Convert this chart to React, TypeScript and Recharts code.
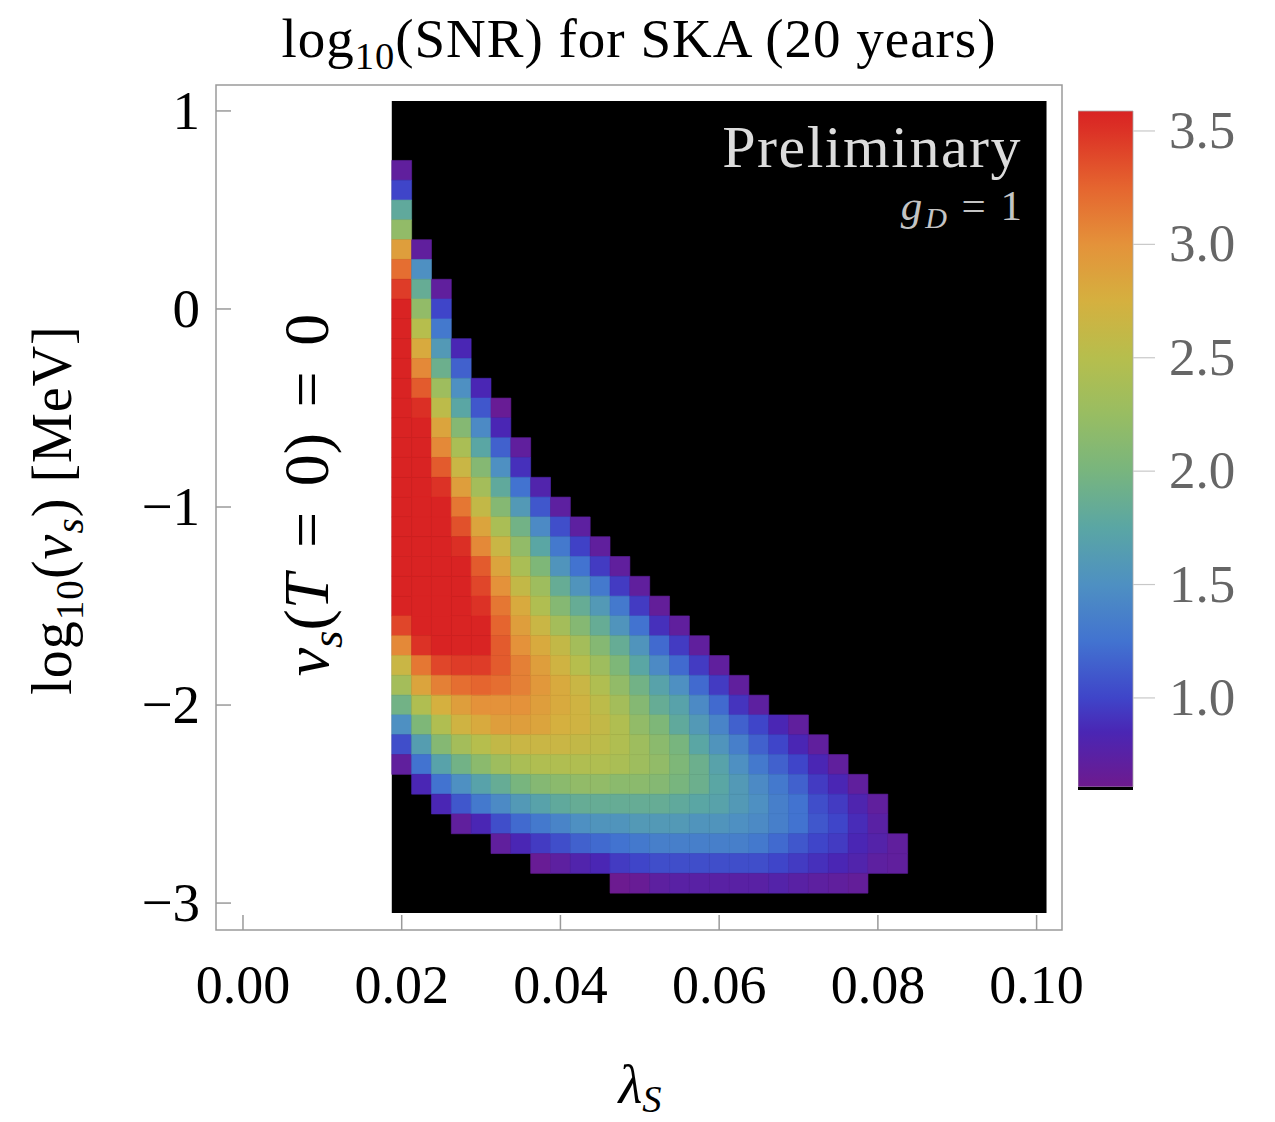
import React from 'react';
import { ScatterChart, ComposedChart, Scatter, XAxis, YAxis, ReferenceArea } from 'recharts';

// column centres (lambda_S)
const lambdaS = [
  0.02, 0.0225, 0.025, 0.0275, 0.03, 0.0325, 0.035, 0.0375, 0.04, 0.0425, 0.045, 0.0475, 0.05,
  0.0525, 0.055, 0.0575, 0.06, 0.0625, 0.065, 0.0675, 0.07, 0.0725, 0.075, 0.0775, 0.08, 0.0825,
];

// log10(v_s / MeV) of the top cell in each column
const topLogVs = [
  0.7, 0.3, 0.1, -0.2, -0.4, -0.5, -0.7, -0.9, -1.0, -1.1, -1.2, -1.3, -1.4,
  -1.5, -1.6, -1.7, -1.8, -1.9, -2.0, -2.1, -2.1, -2.2, -2.3, -2.4, -2.5, -2.7,
];

// log10(SNR), each column read from top to bottom (0.1 dex per cell)
const snr0200 = [0.7, 1.0, 1.8, 2.2, 2.9, 3.2, 3.45, 3.6, 3.6, 3.6, 3.6, 3.6, 3.6, 3.6, 3.6, 3.6, 3.6, 3.6, 3.6, 3.6, 3.6, 3.6, 3.6, 3.4, 3.05, 2.65, 2.35, 1.95, 1.5, 1.05, 0.7];
const snr0225 = [0.7, 1.5, 1.85, 2.2, 2.5, 2.8, 3.05, 3.3, 3.52, 3.6, 3.6, 3.6, 3.6, 3.6, 3.6, 3.6, 3.6, 3.6, 3.6, 3.6, 3.5, 3.15, 2.85, 2.45, 2.05, 1.65, 1.25, 0.85];
const snr0250 = [0.7, 1.0, 1.3, 1.6, 1.9, 2.3, 2.55, 2.85, 3.05, 3.3, 3.5, 3.6, 3.6, 3.6, 3.6, 3.6, 3.6, 3.6, 3.6, 3.4, 3.1, 2.75, 2.45, 2.1, 1.7, 1.25, 0.85];
const snr0275 = [0.85, 1.15, 1.5, 1.75, 2.1, 2.4, 2.65, 2.9, 3.15, 3.35, 3.52, 3.6, 3.6, 3.6, 3.58, 3.58, 3.45, 3.2, 2.9, 2.7, 2.35, 1.95, 1.5, 1.1, 0.7];
const snr0300 = [0.85, 1.1, 1.45, 1.75, 2.1, 2.35, 2.6, 2.85, 3.05, 3.3, 3.4, 3.5, 3.58, 3.58, 3.45, 3.25, 3.0, 2.8, 2.5, 2.15, 1.7, 1.3, 0.85];
const snr0325 = [0.65, 0.85, 1.15, 1.5, 1.8, 2.1, 2.4, 2.65, 2.85, 3.0, 3.15, 3.25, 3.3, 3.3, 3.2, 3.0, 2.9, 2.6, 2.3, 1.85, 1.45, 1.05, 0.7];
const snr0350 = [0.7, 0.9, 1.25, 1.6, 1.95, 2.2, 2.4, 2.6, 2.8, 2.9, 3.0, 3.1, 3.1, 3.0, 2.9, 2.65, 2.4, 2.0, 1.6, 1.2, 0.85];
const snr0375 = [0.8, 1.1, 1.45, 1.75, 2.05, 2.3, 2.45, 2.65, 2.8, 2.9, 2.95, 2.9, 2.85, 2.65, 2.45, 2.1, 1.7, 1.3, 0.95, 0.65];
const snr0400 = [0.72, 1.05, 1.3, 1.55, 1.85, 2.1, 2.35, 2.6, 2.7, 2.8, 2.8, 2.75, 2.65, 2.45, 2.15, 1.8, 1.4, 1.05, 0.72];
const snr0425 = [0.72, 0.98, 1.25, 1.55, 1.85, 2.1, 2.35, 2.5, 2.65, 2.7, 2.7, 2.6, 2.45, 2.2, 1.85, 1.5, 1.15, 0.8];
const snr0450 = [0.7, 0.95, 1.3, 1.6, 1.85, 2.1, 2.3, 2.45, 2.55, 2.6, 2.55, 2.45, 2.2, 1.85, 1.55, 1.2, 0.85];
const snr0475 = [0.7, 0.95, 1.3, 1.55, 1.85, 2.05, 2.2, 2.35, 2.45, 2.45, 2.4, 2.15, 1.85, 1.55, 1.25, 0.95, 0.62];
const snr0500 = [0.7, 0.95, 1.25, 1.55, 1.75, 1.95, 2.1, 2.2, 2.3, 2.3, 2.15, 1.85, 1.6, 1.3, 1.0, 0.65];
const snr0525 = [0.68, 0.9, 1.2, 1.45, 1.7, 1.85, 2.05, 2.15, 2.2, 2.1, 1.85, 1.6, 1.35, 1.05, 0.72];
const snr0550 = [0.7, 0.95, 1.2, 1.5, 1.7, 1.8, 2.0, 2.05, 2.0, 1.8, 1.6, 1.35, 1.05, 0.75];
const snr0575 = [0.7, 0.95, 1.2, 1.45, 1.6, 1.75, 1.9, 1.9, 1.75, 1.55, 1.35, 1.05, 0.75];
const snr0600 = [0.7, 0.95, 1.2, 1.4, 1.55, 1.7, 1.75, 1.7, 1.55, 1.35, 1.05, 0.75];
const snr0625 = [0.7, 0.92, 1.15, 1.35, 1.5, 1.6, 1.6, 1.5, 1.35, 1.05, 0.75];
const snr0650 = [0.72, 1.0, 1.15, 1.3, 1.45, 1.5, 1.45, 1.3, 1.05, 0.75];
const snr0675 = [0.85, 1.0, 1.15, 1.3, 1.35, 1.35, 1.2, 1.0, 0.78];
const snr0700 = [0.7, 0.85, 1.0, 1.15, 1.25, 1.25, 1.1, 0.95, 0.75];
const snr0725 = [0.7, 0.85, 0.95, 1.05, 1.1, 1.0, 0.9, 0.72];
const snr0750 = [0.7, 0.85, 0.95, 1.0, 0.95, 0.85, 0.7];
const snr0775 = [0.7, 0.82, 0.88, 0.85, 0.8, 0.68];
const snr0800 = [0.7, 0.75, 0.78, 0.72];
const snr0825 = [0.7, 0.7];

const snrColumns = [
  snr0200, snr0225, snr0250, snr0275, snr0300, snr0325, snr0350, snr0375, snr0400,
  snr0425, snr0450, snr0475, snr0500, snr0525, snr0550, snr0575, snr0600, snr0625,
  snr0650, snr0675, snr0700, snr0725, snr0750, snr0775, snr0800, snr0825,
];

const xTicks = [0, 0.02, 0.04, 0.06, 0.08, 0.1];
const yTicks = [-3, -2, -1, 0, 1];
const colorbarTicks = [1.0, 1.5, 2.0, 2.5, 3.0, 3.5];

// rainbow colour scale
const cmapValues = [0.607, 0.85, 1.0, 1.25, 1.5, 1.75, 2.0, 2.25, 2.5, 2.75, 3.0, 3.25, 3.5, 3.588];
const cmapColors = ['#6e1a8e', '#4a26b4', '#3f45c9', '#4273d0', '#4e90c2', '#5aa6a4', '#78b57e', '#98bd62', '#b6be4d', '#d5b03f', '#e4923a', '#e5652f', '#dc3226', '#d92323'];

const dLambda = 0.0025;
const dLogV = 0.1;

const serif = '"Liberation Serif", "DejaVu Serif", serif';
const frameColor = '#9a9a9a';

const hexToRgb = (h: string) => [1, 3, 5].map((i) => parseInt(h.slice(i, i + 2), 16));

const colorFor = (v: number) => {
  const n = cmapValues.length;
  if (v <= cmapValues[0]) return cmapColors[0];
  if (v >= cmapValues[n - 1]) return cmapColors[n - 1];
  let i = 0;
  while (v > cmapValues[i + 1]) i++;
  const t = (v - cmapValues[i]) / (cmapValues[i + 1] - cmapValues[i]);
  const a = hexToRgb(cmapColors[i]);
  const b = hexToRgb(cmapColors[i + 1]);
  const c = a.map((ca, k) => Math.round(ca + (b[k] - ca) * t));
  return `rgb(${c[0]},${c[1]},${c[2]})`;
};

const cells = snrColumns.flatMap((col, i) =>
  col.map((snr, j) => ({
    lambda: lambdaS[i],
    logV: Math.round((topLogVs[i] - dLogV * j) * 10) / 10,
    snr,
  }))
);

const fmtY = (v: number) => (v < 0 ? `\u2212${Math.abs(v)}` : `${v}`);

const XTick = (props: any) => {
  const { x, y, payload } = props;
  return (
    <g>
      <line x1={x} x2={x} y1={y} y2={y - 15} stroke={frameColor} strokeWidth={1.5} />
      <text x={x} y={y + 73} textAnchor="middle" fontSize={54} fontFamily={serif} fill="#000">
        {payload.value.toFixed(2)}
      </text>
    </g>
  );
};

const YTick = (props: any) => {
  const { x, y, payload } = props;
  return (
    <g>
      <line x1={x} x2={x + 15} y1={y} y2={y} stroke={frameColor} strokeWidth={1.5} />
      <text x={x - 16} y={y + 18} textAnchor="end" fontSize={55} fontFamily={serif} fill="#000">
        {fmtY(payload.value)}
      </text>
    </g>
  );
};

const CbTick = (props: any) => {
  const { x, y, payload } = props;
  return (
    <g>
      <line x1={x} x2={x + 22} y1={y} y2={y} stroke="#c8c8c8" strokeWidth={1.2} />
      <text x={x + 36} y={y + 17} textAnchor="start" fontSize={53} fontFamily={serif} fill="#666">
        {payload.value.toFixed(1)}
      </text>
    </g>
  );
};

type Part = { t: string; sub?: boolean; it?: boolean; dx?: number };

// renders text parts as tspans, moving subscripts down and back up
const rich = (parts: Part[], size: number, shiftEm = 0.22) => {
  let off = 0;
  return parts.map((p, i) => {
    const target = p.sub ? size * shiftEm : 0;
    const dy = target - off;
    off = target;
    return (
      <tspan
        key={i}
        dy={dy !== 0 ? dy : undefined}
        dx={p.dx}
        fontSize={p.sub ? size * 0.7 : size}
        fontStyle={p.it ? 'italic' : 'normal'}
      >
        {p.t}
      </tspan>
    );
  });
};

const Labels = () => (
  <svg width={1275} height={1122} style={{ position: 'absolute', left: 0, top: 0, pointerEvents: 'none' }} fontFamily={serif}>
    {/* title */}
    <text x={639} y={57} textAnchor="middle" fontSize={55} letterSpacing={1} fill="#000">
      {rich([{ t: 'log' }, { t: '10', sub: true }, { t: '(SNR) for SKA (20 years)' }], 55)}
    </text>

    {/* y axis label */}
    <text x={71} y={510} textAnchor="middle" fontSize={56} letterSpacing={1} fill="#000" transform="rotate(-90 71 510)">
      {rich(
        [
          { t: 'log' },
          { t: '10', sub: true },
          { t: '(' },
          { t: 'v', it: true },
          { t: 's', sub: true, it: true },
          { t: ') [MeV]' },
        ],
        56
      )}
    </text>

    {/* inner label */}
    <text x={328} y={495} textAnchor="middle" fontSize={64} fill="#000" transform="rotate(-90 328 495)">
      {rich(
        [
          { t: 'v', it: true },
          { t: 's', sub: true, it: true },
          { t: '(' },
          { t: 'T', it: true },
          { t: '=', dx: 0.4 * 64 },
          { t: '0)', dx: 0.4 * 64 },
          { t: '=', dx: 0.4 * 64 },
          { t: '0', dx: 0.4 * 64 },
        ],
        64
      )}
    </text>

    {/* x axis label */}
    <text x={640} y={1103} textAnchor="middle" fontSize={55} fill="#000">
      {rich([{ t: 'λ', it: true }, { t: 'S', sub: true, it: true }], 55, 0.16)}
    </text>

    {/* annotations */}
    <text x={1022} y={167} textAnchor="end" fontSize={60} letterSpacing={1.5} fill="#dcdcdc">
      Preliminary
    </text>
    <text x={1022} y={220} textAnchor="end" fontSize={43} fill="#c4c4c4">
      {rich(
        [
          { t: 'g', it: true },
          { t: 'D', sub: true, it: true, dx: 3 },
          { t: '=', dx: 0.34 * 43 },
          { t: '1', dx: 0.34 * 43 },
        ],
        43,
        0.18
      )}
    </text>
  </svg>
);

const App = () => {
  const cbMin = 0.594;
  const cbMax = 3.588;
  return (
    <div style={{ position: 'absolute', left: 0, top: 0, width: 1275, height: 1122, background: '#fff', overflow: 'hidden' }}>
      <div style={{ position: 'absolute', left: 0, top: 0 }}>
        <ScatterChart width={1275} height={1122} margin={{ top: 85, right: 213, bottom: 162, left: 156 }}>
          <XAxis
            type="number"
            dataKey="lambda"
            domain={[-0.0034, 0.1032]}
            ticks={xTicks}
            interval={0}
            allowDataOverflow
            axisLine={false}
            tickSize={0}
            tickMargin={0}
            height={30}
            tick={(p: any) => <XTick {...p} />}
          />
          <YAxis
            type="number"
            dataKey="logV"
            domain={[-3.136, 1.131]}
            ticks={yTicks}
            interval={0}
            allowDataOverflow
            axisLine={false}
            tickSize={0}
            tickMargin={0}
            width={60}
            tick={(p: any) => <YTick {...p} />}
          />
          <ReferenceArea
            x1={lambdaS[0] - dLambda / 2}
            x2={0.1 + dLambda / 2}
            y1={-3 - dLogV / 2}
            y2={1 + dLogV / 2}
            fill="#000"
            fillOpacity={1}
            stroke="none"
            ifOverflow="visible"
          />
          {cells.map((c) => {
            const col = colorFor(c.snr);
            return (
              <ReferenceArea
                key={`${c.lambda}-${c.logV}`}
                x1={c.lambda - dLambda / 2}
                x2={c.lambda + dLambda / 2}
                y1={c.logV - dLogV / 2}
                y2={c.logV + dLogV / 2}
                fill={col}
                fillOpacity={1}
                stroke={col}
                strokeWidth={0.6}
                ifOverflow="visible"
              />
            );
          })}
          <ReferenceArea
            x1={-0.0034}
            x2={0.1032}
            y1={-3.136}
            y2={1.131}
            fill="none"
            stroke={frameColor}
            strokeWidth={1.5}
            ifOverflow="visible"
          />
          <Scatter data={cells} isAnimationActive={false} shape={() => <g />} />
        </ScatterChart>
      </div>

      <div style={{ position: 'absolute', left: 1078, top: 100 }}>
        <ComposedChart
          width={200}
          height={720}
          data={colorbarTicks.map((v) => ({ x: 0.5, v }))}
          margin={{ top: 11, right: 85, bottom: 30, left: 0 }}
        >
          <defs>
            <linearGradient id="cbar" x1="0" y1="0" x2="0" y2="1">
              {cmapValues
                .map((v, i) => ({ v, c: cmapColors[i] }))
                .reverse()
                .map((s) => (
                  <stop key={s.v} offset={(cmapValues[cmapValues.length - 1] - s.v) / (cmapValues[cmapValues.length - 1] - cmapValues[0])} stopColor={s.c} />
                ))}
            </linearGradient>
          </defs>
          <XAxis type="number" dataKey="x" domain={[0, 1]} hide />
          <YAxis
            type="number"
            dataKey="v"
            orientation="right"
            domain={[cbMin, cbMax]}
            ticks={colorbarTicks}
            interval={0}
            allowDataOverflow
            axisLine={false}
            tickSize={0}
            tickMargin={0}
            width={60}
            tick={(p: any) => <CbTick {...p} />}
          />
          <ReferenceArea x1={0} x2={1} y1={cmapValues[0]} y2={cbMax} fill="url(#cbar)" fillOpacity={1} stroke="#aaa" strokeWidth={0.8} ifOverflow="visible" />
          <ReferenceArea x1={0} x2={1} y1={cbMin} y2={cmapValues[0]} fill="#000" fillOpacity={1} stroke="none" ifOverflow="visible" />
          <Scatter dataKey="v" isAnimationActive={false} shape={() => <g />} />
        </ComposedChart>
      </div>

      <Labels />
    </div>
  );
};

export default App;
